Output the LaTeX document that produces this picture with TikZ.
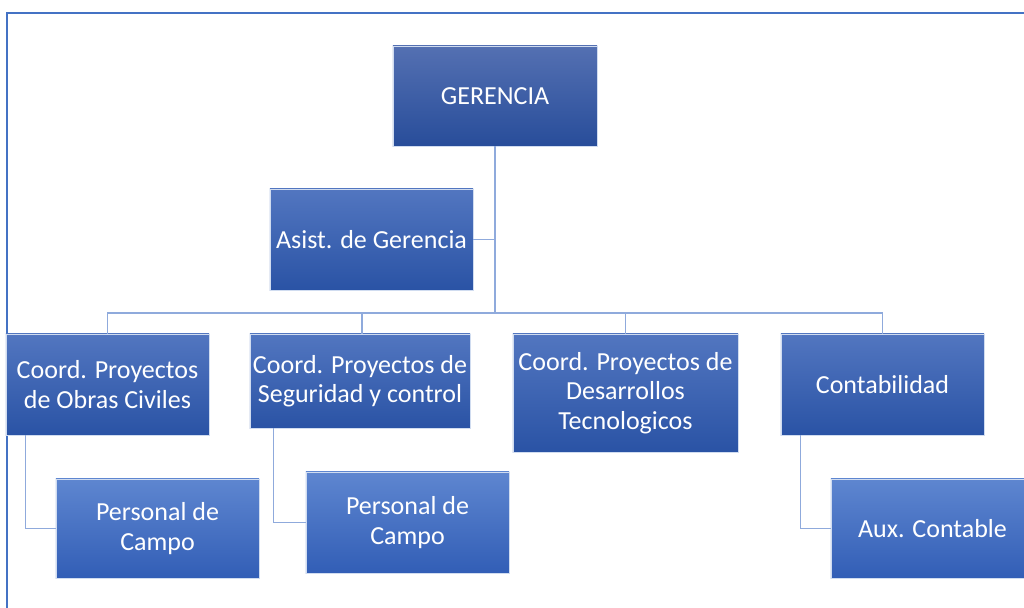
\documentclass[tikz,border=0pt]{standalone}
\usepackage{fontspec}
\setmainfont{Carlito}
\usetikzlibrary{positioning,calc}

\definecolor{frameblue}{RGB}{68,114,196}
\definecolor{linkblue}{RGB}{143,170,220}
\definecolor{topone}{RGB}{84,112,178}
\definecolor{botone}{RGB}{40,77,154}
\definecolor{toptwo}{RGB}{82,118,192}
\definecolor{bottwo}{RGB}{42,83,165}
\definecolor{topthree}{RGB}{94,134,208}
\definecolor{botthree}{RGB}{50,94,182}

\begin{document}
\begin{tikzpicture}[x=0.025cm, y=-0.025cm,
		box/.style={draw=white!75!frameblue, line width=0.5pt, align=center,
			text=white, inner sep=2pt, font=\fontsize{18.5}{21}\selectfont},
		lvlone/.style={box, top color=topone, bottom color=botone},
		lvltwo/.style={box, top color=toptwo, bottom color=bottwo},
		lvlthree/.style={box, top color=topthree, bottom color=botthree},
		link/.style={draw=linkblue, line width=1.1pt}]
			\clip (0,0) rectangle (1024,607);
			
			% Frame
			\draw[frameblue, line width=1.5pt] (7,620) -- (7,13) -- (1040,13);
			
			% Gerencia
			\node[lvlone, minimum width=5.1cm, minimum height=2.5cm] (ger) at (495,96) {GERENCIA};
			\node[lvltwo, minimum width=5.075cm, minimum height=2.525cm] (asis) at (371.5,239.5) {Asist. de Gerencia};
			
			% Coordinaciones
			\node[lvltwo, minimum width=5.075cm, minimum height=2.525cm] (obras) at (107.5,384.5) {Coord. Proyectos\\de Obras Civiles};
			\node[lvltwo, minimum width=5.5cm, minimum height=2.35cm] (segur) at (360,381) {Coord. Proyectos de\\Seguridad y control};
			\node[lvltwo, minimum width=5.625cm, minimum height=2.95cm] (desar) at (625.5,393) {Coord. Proyectos de\\Desarrollos\\Tecnologicos};
			\node[lvltwo, minimum width=5.075cm, minimum height=2.525cm] (conta) at (882.5,384.5) {Contabilidad};
			
			% Personal
			\node[lvlthree, minimum width=5.075cm, minimum height=2.475cm] (campoa) at (157.5,528.5) {Personal de\\Campo};
			\node[lvlthree, minimum width=5.075cm, minimum height=2.525cm] (campob) at (407.5,522.5) {Personal de\\Campo};
			\node[lvlthree, minimum width=5.075cm, minimum height=2.475cm] (aux) at (932.5,528.5) {Aux. Contable};
			
			% Connectors
			\coordinate (bus) at (495,313);
			\draw[link] (ger.south) -- (bus);
			\draw[link] (asis.east) -- (asis.east -| ger.south);
			\draw[link] (bus) -| (obras.north);
			\draw[link] (bus) -| ([xshift=0.05cm]segur.north);
			\draw[link] (bus) -| (desar.north);
			\draw[link] (bus) -| (conta.north);
			\draw[link] ([xshift=0.5cm]obras.south west) |- (campoa.west);
			\draw[link] ([xshift=0.6cm]segur.south west) |- (campob.west);
			\draw[link] ([xshift=0.5cm]conta.south west) |- (aux.west);
		\end{tikzpicture}
\end{document}
